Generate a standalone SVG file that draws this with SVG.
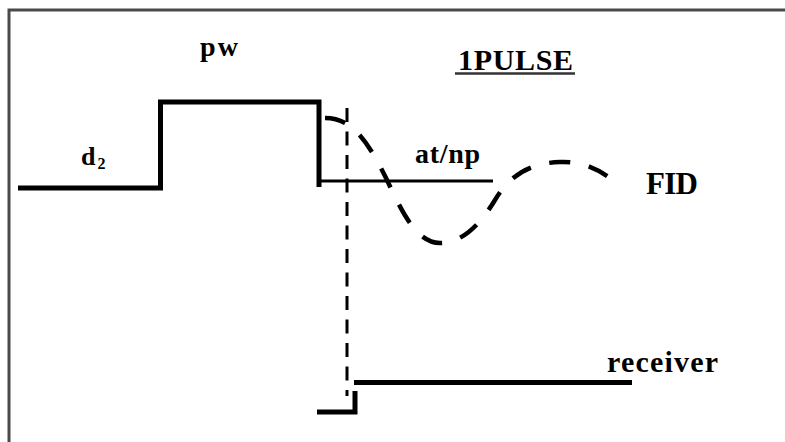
<svg xmlns="http://www.w3.org/2000/svg" width="785" height="442" viewBox="0 0 785 442">
<style>
.t{font-family:"Liberation Serif","Times New Roman",serif;font-weight:bold;fill:#000}
.thick{fill:none;stroke:#000;stroke-width:5;stroke-linejoin:miter;stroke-linecap:butt}
.thin{fill:none;stroke:#000;stroke-width:3}
</style>
<rect width="785" height="442" fill="#fff"/>
<path id="frame" d="M9,442 V10 H785" fill="none" stroke="#4a4a4a" stroke-width="3"/>
<g id="pulse">
<path class="thick" d="M18,188 H160.5 V102 H319 V187"/>
<text class="t" x="200" y="56" font-size="28" textLength="38">pw</text>
<text class="t" x="81" y="165" font-size="26">d</text>
<text class="t" x="97.5" y="169" font-size="16">2</text>
</g>
<g id="acquisition">
<path class="thin" d="M319,181 H493"/>
<text class="t" x="415" y="162.5" font-size="28" textLength="65">at/np</text>
</g>
<g id="fid">
<path fill="none" stroke="#000" stroke-width="4.5" stroke-dasharray="21 19" d="M325,118 C348,118 364,133 386,178 C400,207 415,243 440,243 C460,243 478,228 495,200 C510,175 530,163 560,162 C583,161 600,170 615,182"/>
<text class="t" x="646" y="194" font-size="31" textLength="52">FID</text>
</g>
<g id="title">
<text class="t" x="458" y="70" font-size="30" textLength="115">1PULSE</text>
<path d="M455,73.5 H575" stroke="#333" stroke-width="2.5"/>
</g>
<g id="receiver">
<path class="thick" d="M317,412 H355 V391"/>
<path class="thick" d="M354,382.5 H632"/>
<text class="t" x="607" y="371.5" font-size="30" textLength="111">receiver</text>
</g>
<g id="connectors">
<path class="thin" stroke-dasharray="14 9.5" d="M347,108 V396"/>
</g>
</svg>
